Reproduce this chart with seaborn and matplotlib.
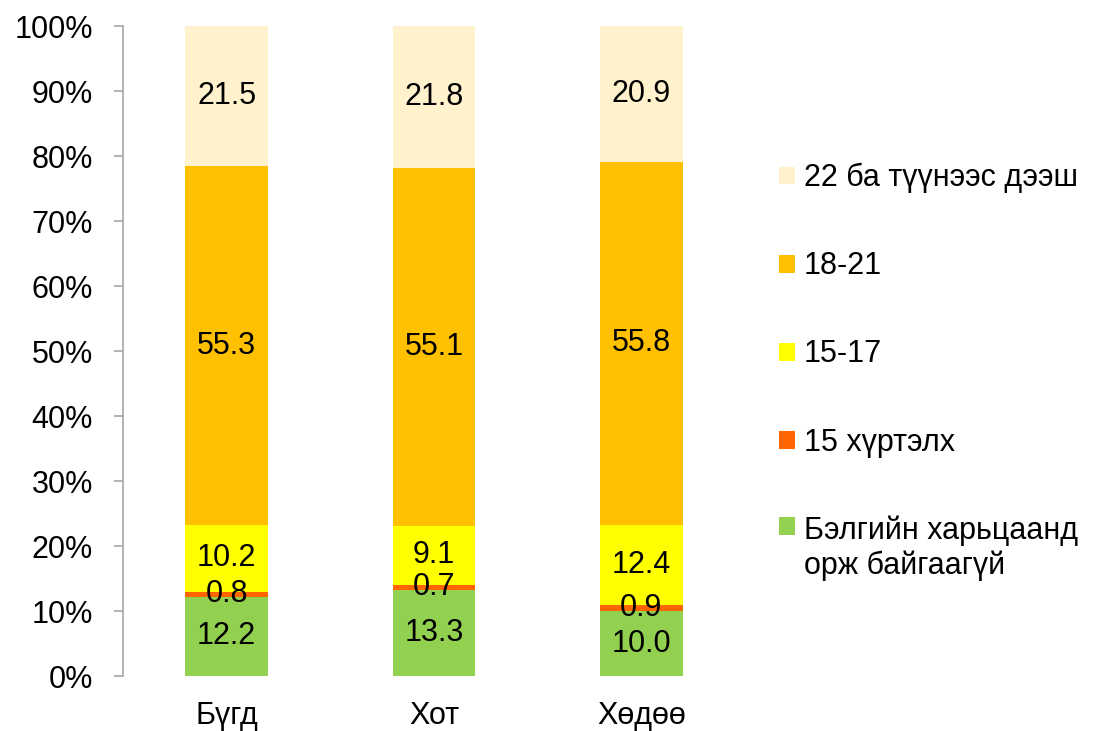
import numpy as np
import seaborn as sns
import matplotlib.pyplot as plt
from matplotlib.patches import Patch

sns.set_style("white")
plt.rcParams['font.family'] = ['Liberation Sans', 'DejaVu Sans']
plt.rcParams['text.color'] = 'black'
plt.rcParams['xtick.labelcolor'] = 'black'
plt.rcParams['ytick.labelcolor'] = 'black'

categories = ["Бүгд", "Хот", "Хөдөө"]
series_names = ["Бэлгийн харьцаанд\nорж байгаагүй", "15 хүртэлх", "15-17", "18-21",
                "22 ба түүнээс дээш"]
never = [12.2, 13.3, 10.0]
under15 = [0.8, 0.7, 0.9]
age15_17 = [10.2, 9.1, 12.4]
age18_21 = [55.3, 55.1, 55.8]
age22plus = [21.5, 21.8, 20.9]
colors = ["#92D050", "#FF6600", "#FFFF00", "#FFC000", "#FFF2CC"]
yticks = [0, 10, 20, 30, 40, 50, 60, 70, 80, 90, 100]

series = [never, under15, age15_17, age18_21, age22plus]
FS = 22

fig = plt.figure(figsize=(10.93, 7.31), dpi=100)
ax = fig.add_axes([0.1125, 0.0752, 0.5691, 0.8892])

bottom = np.zeros(len(categories))
for vals, col in zip(series, colors):
    sns.barplot(x=categories, y=vals, bottom=bottom, color=col, width=0.4,
                linewidth=0, saturation=1, ax=ax)
    # value labels in the middle of each segment
    for i, v in enumerate(vals):
        ax.text(i, bottom[i] + v / 2, f"{v:.1f}", ha="center", va="center",
                fontsize=FS, color="black")
    bottom = bottom + np.array(vals)

ax.set_xlim(-0.5, 2.5)
ax.set_ylim(0, 100)
ax.set_yticks(yticks)
ax.set_yticklabels([f"{t}%" for t in yticks], fontsize=FS)
ax.tick_params(axis="y", left=True, length=6.5, width=1.2, color="#a6a6a6",
               labelcolor="black", direction="out", pad=15)
ax.tick_params(axis="x", bottom=False, length=0, pad=18, labelsize=FS,
               labelcolor="black")
ax.set_xlabel("")
ax.set_ylabel("")

for side in ["top", "right", "bottom"]:
    ax.spines[side].set_visible(False)
ax.spines["left"].set_color("#a6a6a6")
ax.spines["left"].set_linewidth(1.2)

handles = [Patch(facecolor=c, edgecolor="none") for c in colors]
leg = fig.legend(handles[::-1], series_names[::-1], loc="upper left",
                 bbox_to_anchor=(0.7127, 0.777), frameon=False, fontsize=FS,
                 handlelength=0.52, handleheight=0.52, handletextpad=0.3,
                 labelspacing=1.9, borderpad=0, borderaxespad=0,
                 labelcolor="black")
for t in leg.get_texts():
    t.set_linespacing(1.2)
# put the square of the two-line entry next to its first line
last = leg.legend_handles[-1]
last.set_y(last.get_y() + FS * 0.75)

fig.savefig("out.png", dpi=100)
